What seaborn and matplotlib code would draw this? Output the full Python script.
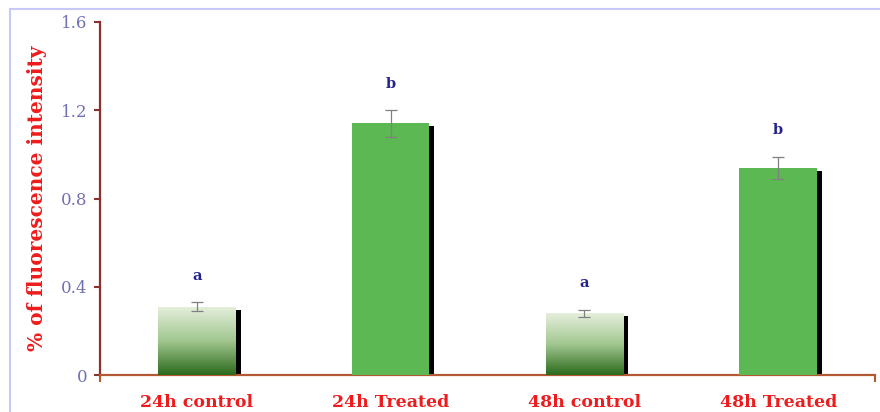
import numpy as np
import pandas as pd
import matplotlib
matplotlib.use("Agg")
import matplotlib.pyplot as plt
from matplotlib.patches import Rectangle
from matplotlib.colors import LinearSegmentedColormap
import seaborn as sns

# Data
groups = ["24h control", "24h Treated", "48h control", "48h Treated"]
means = [0.31, 1.14, 0.28, 0.94]
errors = [0.02, 0.06, 0.015, 0.05]
letters = ["a", "b", "a", "b"]
yticks = [0, 0.4, 0.8, 1.2, 1.6]
ytick_labels = ["0", "0.4", "0.8", "1.2", "1.6"]

GREEN = "#5cb852"
bar_colors = ["#ffffff", GREEN, "#ffffff", GREEN]
gradient_bars = [True, False, True, False]

sns.set_theme(style="white")
plt.rcParams["font.family"] = ["DejaVu Serif"]

fig = plt.figure(figsize=(8.8, 4.12), dpi=100)
ax = fig.add_axes([100 / 880, 1 - 375 / 412, 775 / 880, (375 - 22) / 412])

df = pd.DataFrame({"group": groups, "value": means})
sns.barplot(data=df, x="group", y="value", hue="group", palette=bar_colors,
            legend=False, errorbar=None, width=0.4, saturation=1, ax=ax,
            zorder=3, linewidth=0)

px = 0.4 / 77  # data units per pixel along x
py = 1.6 / 353  # data units per pixel along y

patches = sorted(ax.patches, key=lambda p: p.get_x())
# Gradient ramp: light at the top, dark green at the base
ramp = np.linspace(0, 1, 256).reshape(-1, 1)
cmap = LinearSegmentedColormap.from_list("ctrl", ["#e6efdd", "#a2c790", "#2b6a1c"])

for p, grad in zip(patches, gradient_bars):
    x0, w, h = p.get_x(), p.get_width(), p.get_height()
    # black drop shadow on the right side
    ax.add_patch(Rectangle((x0 + 5 * px, 0), w, h - 3 * py, color="black",
                           zorder=2, linewidth=0))
    if grad:
        im = ax.imshow(ramp, cmap=cmap, aspect="auto",
                       extent=(x0, x0 + w, 0, h), origin="upper", zorder=3.5)
        im.set_clip_path(p)

centers = [p.get_x() + p.get_width() / 2 for p in patches]
ax.errorbar(centers, means, yerr=errors, fmt="none", ecolor="#808080",
            elinewidth=0.9, capsize=4, capthick=0.9, zorder=5)

for cx, m, e, lab in zip(centers, means, errors, letters):
    ax.text(cx, m + e + 0.12, lab, ha="center", va="center", color="#23238f",
            fontsize=10.5, fontweight="bold", zorder=6)

ax.set_xlim(-0.5, 3.5)
ax.set_ylim(0, 1.6)
ax.set_yticks(yticks)
ax.set_yticklabels(ytick_labels, color="#7070b4", fontsize=12)
ax.set_xticks(range(len(groups)))
ax.set_xticklabels(groups, color="#ee1c1c", fontsize=12.5, fontweight="bold")
ax.set_xlabel("")
ax.set_ylabel("% of fluorescence intensity", color="#ee1c1c", fontsize=14.5,
              fontweight="bold", labelpad=10)

for s in ["top", "right"]:
    ax.spines[s].set_visible(False)
ax.spines["left"].set_color("#8b2f2f")
ax.spines["left"].set_linewidth(1.6)
ax.spines["bottom"].set_color("#b35a32")
ax.spines["bottom"].set_linewidth(1.6)

ax.tick_params(axis="y", left=True, length=4, width=1.5, color="#8b2f2f",
               direction="out", pad=5)
ax.tick_params(axis="x", bottom=False, pad=8)
ax.set_xticks([-0.5, 3.5], minor=True)
ax.tick_params(axis="x", which="minor", bottom=True, length=5, width=1.5,
               color="#b35a32", direction="out")

# figure frame
fig.patches.append(Rectangle((10 / 880, -0.05), 1.0, 1 - 9 / 412 + 0.05,
                             transform=fig.transFigure, fill=False,
                             edgecolor="#c9c9f7", linewidth=1.5))

fig.savefig("out.png", dpi=100)
